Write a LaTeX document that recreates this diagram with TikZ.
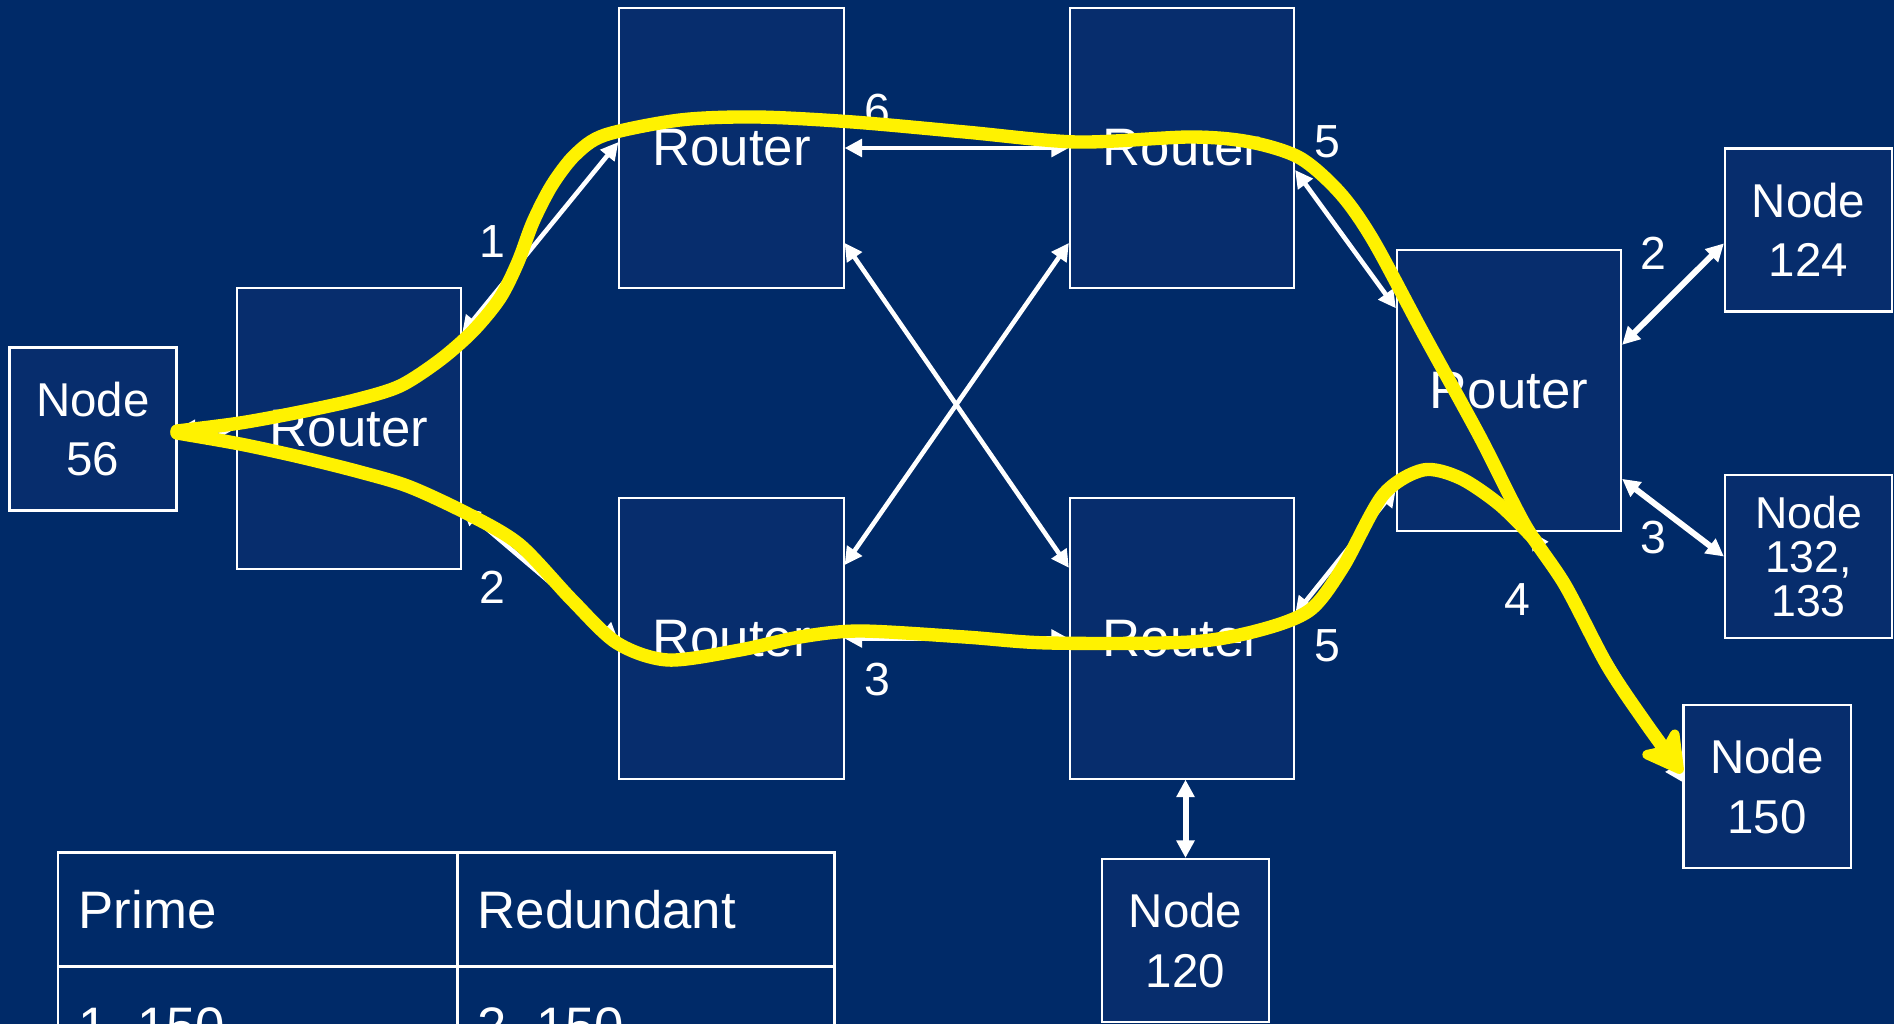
\documentclass[tikz,border=0pt]{standalone}
\usepackage{fontspec}
\setmainfont{Liberation Sans}
\usepackage{tikz}
\usetikzlibrary{arrows.meta}

\definecolor{slidebg}{RGB}{0,42,104}
\definecolor{boxfill}{RGB}{7,45,109}

\begin{document}
\begin{tikzpicture}[x=0.01cm, y=-0.01cm,
  box/.style={draw=white, line width=0.6pt, fill=boxfill, text=white,
              align=center, inner sep=0pt},
  router/.style={box, minimum width=2.24cm, minimum height=2.80cm,
                 font=\fontsize{15}{18}\selectfont},
  host/.style={box, minimum width=1.67cm, minimum height=1.63cm,
               font=\fontsize{13.5}{16.8}\selectfont},
  link/.style={draw=white, line width=1.3pt,
               {Triangle[length=5pt,width=5pt]}-{Triangle[length=5pt,width=5pt]}},
  uplink/.style={link, line width=1.7pt},
  port/.style={text=white, font=\fontsize{13.2}{15}\selectfont, inner sep=0pt},
  cell/.style={text=white, font=\fontsize{15}{18}\selectfont, inner sep=0pt,
               anchor=base west},
  grid/.style={draw=white, line width=0.85pt},
  route/.style={draw=yellow, line width=3.8pt, line cap=round, line join=round}]
\useasboundingbox (0,0) rectangle (1894,1024);
\fill[slidebg] (0,0) rectangle (1894,1024);
\clip (0,0) rectangle (1894,1024);

% hosts and routers
\node[host]   (n56)  at (93,429)      {Node\\56};
\node[router] (rL)   at (349,428.5)   {Router};
\node[router] (rT1)  at (731.5,148)   {Router};
\node[router] (rT2)  at (1182,148)    {Router};
\node[router] (rB1)  at (731.5,638.5) {Router};
\node[router] (rB2)  at (1182,638.5)  {Router};
\node[router] (rR)   at (1509,390.5)  {Router};
\node[host]   (n124) at (1808.5,230)  {Node\\124};
\node[host, font=\fontsize{12.7}{12.4}\selectfont]
              (n132) at (1808.5,556.5) {Node\\132,\\133};
\node[host]   (n150) at (1767,786.5)  {Node\\150};
\node[host]   (n120) at (1185.5,940.5) {Node\\120};

% links
\draw[link] (n56.east) -- (rL.west);
\draw[link] (rL.40) -- (rT1.177);
\draw[link] (rL.-35) -- (rB1.181);
\draw[link] (rT1.east) -- (rT2.west);
\draw[link] (rB1.east) -- (rB2.west);
\draw[link] (rT1.-40) -- (rB2.148);
\draw[link] (rB1.33) -- (rT2.220);
\draw[link] (rT2.-11) -- (rR.144);
\draw[link] (rB2.12) -- (rR.221);
\draw[uplink] (rR.22) -- (n124.189);
\draw[uplink] (rR.-38) -- (n132.west);
\draw[link] (rR.-81) -- (n150.177);
\draw[uplink] (n120.north |- rB2.south) -- (n120.north);

% port numbers
\node[port] (pa) at (492,242)  {1};
\node[port] (pb) at (492,587)  {2};
\node[port] (pc) at (877,111)  {6};
\node[port] (pd) at (877,680)  {3};
\node[port] (pe) at (1327,142) {5};
\node[port] (pf) at (1327,646) {5};
\node[port] (pg) at (1653,253) {2};
\node[port] (ph) at (1653,538) {3};
\node[port] (pi) at (1517,600) {4};

% prime / redundant table
\draw[grid] (58,852) rectangle (834,1080);
\draw[grid] (457,852) -- (457,1080);
\draw[grid] (58,966) -- (834,966);
\node[cell] (hPrime) at (78,928)   {Prime};
\node[cell] (hRed)   at (477,928)  {Redundant};
\node[cell] (vPrime) at (78,1044)  {1, 150};
\node[cell] (vRed)   at (477,1044) {2, 150};

% highlighted routes
\draw[route] plot[smooth] coordinates {(177,433) (240,444) (300,457)
  (360,472) (410,487) (470,515) (520,545) (572,600) (617,643) (668,660)
  (740,650) (800,637) (860,631) (965,637) (1049,643) (1190,642) (1260,630)
  (1310,610) (1343,567) (1383,495) (1423,470) (1460,478) (1500,505) (1535,540)};
\draw[route, -{Stealth[length=0.5cm, width=0.55cm, inset=0.12cm, round]}]
  plot[smooth] coordinates {(177,431) (240,423) (300,412) (355,400)
  (400,386) (440,360) (473,331) (500,298) (518,262) (533,222) (552,185)
  (575,155) (605,135) (680,120) (757,117) (853,122) (965,132) (1077,142)
  (1190,137) (1250,142) (1300,158) (1340,193) (1373,240) (1423,333)
  (1480,437) (1525,525) (1565,585) (1607,665) (1645,722) (1682,773)};
\end{tikzpicture}
\end{document}
